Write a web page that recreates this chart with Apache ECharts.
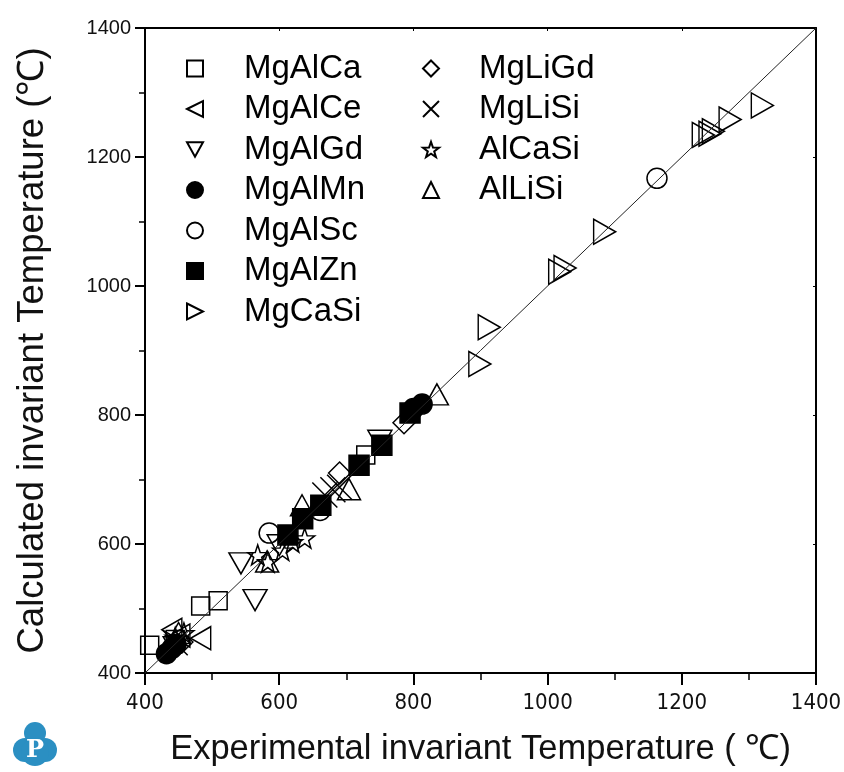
<!DOCTYPE html>
<html>
<head>
<meta charset="utf-8">
<title>Invariant temperatures</title>
<script src="https://cdn.jsdelivr.net/npm/echarts@6/dist/echarts.min.js"></script>
<style>
  html, body { margin: 0; padding: 0; background: #fff; }
  #chart { width: 844px; height: 772px; }
</style>
</head>
<body>
<div id="chart"></div>
<script>
// experimental vs calculated invariant temperature, per system
const mgAlCa = [[407, 443], [445, 452], [483, 504], [509, 512], [729, 738]];
const mgAlCe = [[440, 467], [452, 458], [483, 454]];
const mgAlGd = [[445, 440], [543, 570], [564, 513], [600, 598], [750, 760]];
const mgAlMn = [[432, 430], [440, 438], [446, 444], [800, 810], [813, 817]];
const mgAlSc = [[585, 617], [661, 652], [1163, 1167]];
const mgAlZn = [[613, 614], [635, 639], [662, 660], [719, 722], [753, 753], [795, 803]];
const mgCaSi = [[899, 879], [913, 936], [1018, 1022], [1026, 1028], [1085, 1084],
  [1232, 1234], [1242, 1236], [1247, 1240], [1272, 1258], [1320, 1280]];
const mgLiGd = [[455, 448], [690, 710], [786, 788]];
const mgLiSi = [[445, 447], [668, 676], [680, 684], [690, 688]];
const alCaSi = [[445, 455], [458, 462], [568, 583], [583, 572], [605, 590], [620, 603], [638, 609]];
const alLiSi = [[450, 462], [582, 573], [634, 660], [704, 685], [835, 832]];

const legendLeft = ['MgAlCa', 'MgAlCe', 'MgAlGd', 'MgAlMn', 'MgAlSc', 'MgAlZn', 'MgCaSi'];
const legendRight = ['MgLiGd', 'MgLiSi', 'AlCaSi', 'AlLiSi'];
const diagonal = [[400, 400], [1400, 1400]];
const axisMin = 400, axisMax = 1400, axisStep = 200;

const OPEN = 'rgba(0,0,0,0)';
const TRI_LEFT = 'path://M0,5L10,0L10,10Z';
const TRI_RIGHT = 'path://M0,0L10,5L0,10Z';
const TRI_DOWN = 'path://M0,0L10,0L5,9Z';
const CROSS = 'path://M0,0L10,10M10,0L0,10';
const STAR = 'path://M10,0L12.35,6.76L19.51,6.91L13.8,11.24L15.88,18.09L10,14L4.12,18.09L6.2,11.24L0.49,6.91L7.65,6.76Z';
const SANS = "'Liberation Sans', Arial, sans-serif";

function scatter(name, data, symbol, size, fill) {
  return {
    name: name,
    type: 'scatter',
    data: data,
    symbol: symbol,
    symbolSize: size,
    itemStyle: { color: fill || OPEN, borderColor: '#000', borderWidth: 1.5, opacity: 1 }
  };
}

function plain(v) {
  return String(v);
}

const legendText = { fontSize: 33, fontFamily: SANS, color: '#000', lineHeight: 32 };

const chart = echarts.init(document.getElementById('chart'), null, { renderer: 'canvas' });

const option = {
  backgroundColor: '#fff',
  animation: false,
  grid: { left: 145, right: 28, top: 28, bottom: 99, containLabel: false, outerBoundsMode: 'none' },
  legend: [
    {
      data: legendLeft, orient: 'vertical', left: 186, top: 52, padding: 0,
      itemWidth: 16, itemHeight: 16, itemGap: 7.5, selectedMode: false,
      textStyle: Object.assign({ padding: [0, 0, 0, 36] }, legendText)
    },
    {
      data: legendRight, orient: 'vertical', left: 422, top: 52, padding: 0,
      itemWidth: 16, itemHeight: 16, itemGap: 7.5, selectedMode: false,
      textStyle: Object.assign({ padding: [0, 0, 0, 35] }, legendText)
    }
  ],
  xAxis: [
    {
      type: 'value', min: axisMin, max: axisMax, interval: axisStep,
      name: 'Experimental invariant Temperature ( ℃)',
      nameLocation: 'middle', nameGap: 59,
      nameTextStyle: { fontSize: 34.5, fontFamily: SANS, color: '#111' },
      axisLine: { lineStyle: { color: '#000', width: 2 } },
      axisTick: { length: 12, lineStyle: { color: '#000', width: 2 } },
      minorTick: { show: true, splitNumber: 2, length: 7, lineStyle: { color: '#000', width: 1.5 } },
      axisLabel: {
        fontSize: 22, margin: 19, color: '#111', formatter: plain,
        fontFamily: "'Liberation Sans Narrow', 'DejaVu Sans Condensed', sans-serif"
      },
      splitLine: { show: false }
    },
    {
      type: 'value', position: 'top', min: axisMin, max: axisMax, interval: axisStep,
      axisLine: { lineStyle: { color: '#000', width: 2 } },
      axisTick: { inside: true, length: 3, lineStyle: { color: '#000', width: 1 } },
      axisLabel: { show: false },
      splitLine: { show: false }
    }
  ],
  yAxis: [
    {
      type: 'value', min: axisMin, max: axisMax, interval: axisStep,
      name: 'Calculated invariant Temperature (℃)',
      nameLocation: 'middle', nameGap: 94,
      nameTextStyle: { fontSize: 36.5, fontFamily: SANS, color: '#111' },
      axisLine: { lineStyle: { color: '#000', width: 2 } },
      axisTick: { length: 10, lineStyle: { color: '#000', width: 2 } },
      minorTick: { show: true, splitNumber: 2, length: 6, lineStyle: { color: '#000', width: 1.5 } },
      axisLabel: { fontSize: 20, margin: 14, color: '#111', fontFamily: SANS, formatter: plain },
      splitLine: { show: false }
    },
    {
      type: 'value', position: 'right', min: axisMin, max: axisMax, interval: axisStep,
      axisLine: { lineStyle: { color: '#000', width: 2 } },
      axisTick: { inside: true, length: 3, lineStyle: { color: '#000', width: 1 } },
      axisLabel: { show: false },
      splitLine: { show: false }
    }
  ],
  series: [
    {
      name: 'y = x',
      type: 'line',
      data: diagonal,
      showSymbol: false,
      silent: true,
      lineStyle: { color: '#222', width: 1 }
    },
    scatter('MgAlCa', mgAlCa, 'rect', 18),
    scatter('MgAlCe', mgAlCe, TRI_LEFT, [20, 23]),
    scatter('MgAlGd', mgAlGd, TRI_DOWN, [24, 21]),
    scatter('MgAlMn', mgAlMn, 'circle', 20, '#000'),
    scatter('MgAlSc', mgAlSc, 'circle', 20),
    scatter('MgAlZn', mgAlZn, 'rect', 20, '#000'),
    scatter('MgCaSi', mgCaSi, TRI_RIGHT, [22, 25]),
    scatter('MgLiGd', mgLiGd, 'diamond', 22),
    scatter('MgLiSi', mgLiSi, CROSS, 25),
    scatter('AlCaSi', alCaSi, STAR, 20),
    scatter('AlLiSi', alLiSi, 'triangle', [23, 21])
  ],
  graphic: [
    {
      type: 'group', left: 13, top: 722,
      children: [
        { type: 'circle', shape: { cx: 22, cy: 12, r: 11 }, style: { fill: '#2b8fc2' } },
        { type: 'circle', shape: { cx: 12, cy: 29, r: 12 }, style: { fill: '#2b8fc2' } },
        { type: 'circle', shape: { cx: 32, cy: 29, r: 12 }, style: { fill: '#2b8fc2' } },
        { type: 'circle', shape: { cx: 22, cy: 31, r: 14 }, style: { fill: '#2b8fc2' } },
        {
          type: 'text', x: 22, y: 30,
          style: {
            text: 'P', fill: '#fff', fontSize: 24, fontWeight: 'bold',
            fontFamily: "'DejaVu Serif', serif", align: 'center', verticalAlign: 'middle'
          }
        }
      ]
    }
  ]
};

chart.setOption(option);
</script>
</body>
</html>
